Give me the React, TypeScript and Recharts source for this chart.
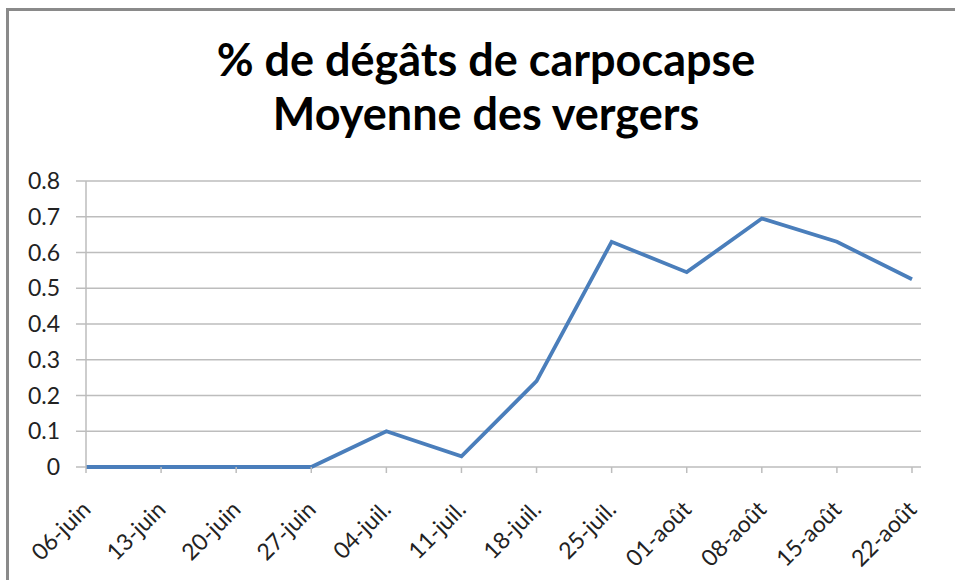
import React from "react";
import { LineChart, Line, XAxis, YAxis, CartesianGrid } from "recharts";

const categories = ["06-juin", "13-juin", "20-juin", "27-juin", "04-juil.", "11-juil.", "18-juil.", "25-juil.", "01-août", "08-août", "15-août", "22-août"];
const degats = [0, 0, 0, 0, 0.1, 0.03, 0.24, 0.63, 0.545, 0.695, 0.63, 0.525];
const yTicks = [0, 0.1, 0.2, 0.3, 0.4, 0.5, 0.6, 0.7, 0.8];
const titleLines = ["% de dégâts de carpocapse", "Moyenne des vergers"];

const data = categories.map((c, i) => ({ date: c, v: degats[i] }));

const FONT = "Lato, 'Open Sans', sans-serif";

const XTick = (props: any) => {
  const { x, y, payload } = props;
  return (
    <text
      transform={`translate(${x + 6},${y + 36}) rotate(-45)`}
      textAnchor="end"
      fontFamily={FONT}
      fontSize={23}
      fill="#222"
    >
      {payload.value}
    </text>
  );
};

export default function App() {
  return (
    <div style={{ position: "absolute", left: 0, top: 0, width: 955, height: 580, background: "#fff", overflow: "hidden" }}>
      <div
        style={{
          position: "absolute",
          left: 6,
          top: 8,
          width: 960,
          height: 590,
          borderLeft: "3px solid #8a8a8a",
          borderTop: "3px solid #8a8a8a",
          boxSizing: "border-box",
        }}
      />
      <div
        style={{
          position: "absolute",
          left: 0,
          top: 32,
          width: 972,
          textAlign: "center",
          fontFamily: FONT,
          fontWeight: 700,
          fontSize: 45,
          lineHeight: "54px",
          color: "#000",
        }}
      >
        <div>{titleLines[0]}</div>
        <div>{titleLines[1]}</div>
      </div>
      <div style={{ position: "absolute", left: 0, top: 0 }}>
        <LineChart width={955} height={580} data={data} margin={{ top: 181, right: 34, bottom: 0, left: 0 }}>
          <CartesianGrid vertical={false} stroke="#bdbdbd" strokeWidth={1.5} />
          <XAxis
            dataKey="date"
            interval={0}
            padding={{ left: 0, right: 9 }}
            height={113}
            tick={<XTick />}
            tickSize={6}
            axisLine={false}
            tickLine={{ stroke: "#bdbdbd", strokeWidth: 1.5 }}
          />
          <YAxis
            domain={[0, 0.8]}
            ticks={yTicks}
            width={86}
            tickSize={10}
            tickMargin={16}
            axisLine={{ stroke: "#bdbdbd", strokeWidth: 1.5 }}
            tickLine={{ stroke: "#bdbdbd", strokeWidth: 1.5 }}
            tick={{ fontFamily: FONT, fontSize: 23, fill: "#222" }}
          />
          <Line
            type="linear"
            dataKey="v"
            stroke="#4a7ebb"
            strokeWidth={3.8}
            dot={false}
            isAnimationActive={false}
          />
        </LineChart>
      </div>
    </div>
  );
}
